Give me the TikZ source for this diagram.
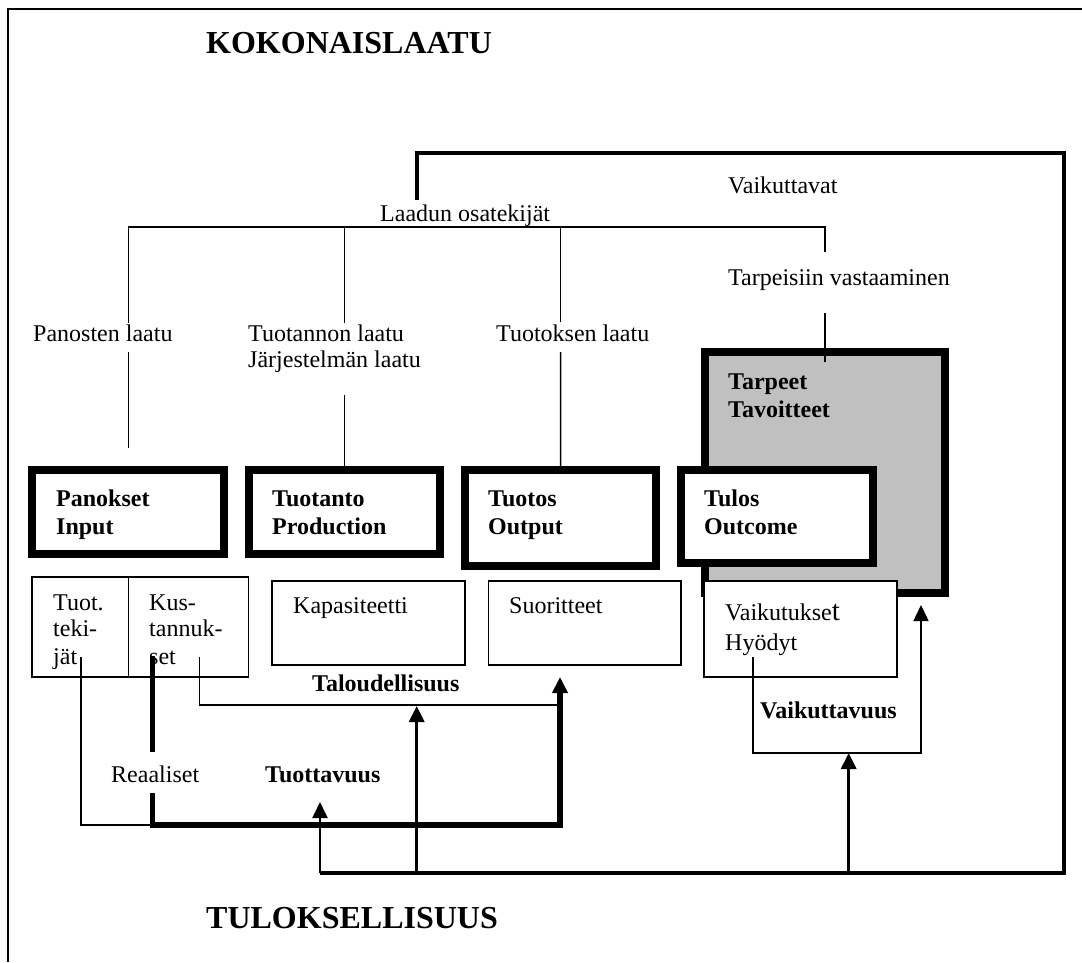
\documentclass[tikz,border=0pt]{standalone}
\usepackage{fontspec}
\setmainfont{Liberation Serif}
\usetikzlibrary{arrows.meta}
\begin{document}
\begin{tikzpicture}[x=1pt,y=-1pt,
  txt/.style={inner sep=0pt, anchor=base west, font=\fontsize{24}{28}\selectfont},
  btxt/.style={inner sep=0pt, anchor=base west, font=\fontsize{24}{28}\selectfont\bfseries},
  title/.style={inner sep=0pt, anchor=base west, font=\fontsize{32}{36}\selectfont\bfseries},
  heavybox/.style={draw, line width=8pt, fill=white, inner sep=0pt},
  lightbox/.style={draw, line width=1.5pt, fill=white, inner sep=0pt},
  thinline/.style={line width=1.5pt},
  loopline/.style={line width=4pt},
  headtip/.style={-{Triangle[width=15pt,length=16pt]}},
]
\useasboundingbox (0,0) rectangle (1082,962);

% outer frame
\draw[line width=2pt] (1082,9) -- (8,9) -- (8,962);

% titles
\node[title] (kokonais) at (206,53) {KOKONAISLAATU};
\node[title] (tuloksell) at (206,928) {TULOKSELLISUUS};

% quality components
\node[txt] (osat) at (380,221) {Laadun osatekijät};
\node[txt] (vaikuttavat) at (728,193) {Vaikuttavat};
\node[txt] (tarpeisiin) at (728,285) {Tarpeisiin vastaaminen};
\node[txt] (panlaatu) at (33,341) {Panosten laatu};
\node[txt] (tuotlaatu) at (248,341) {Tuotannon laatu};
\node[txt] (jarjlaatu) at (248,367) {Järjestelmän laatu};
\node[txt] (tuotoslaatu) at (496,341) {Tuotoksen laatu};

% needs / goals
\node[heavybox, fill={rgb,255:red,192;green,192;blue,192}, minimum width=240pt, minimum height=241pt] (tarpeet) at (824.7,472.5) {};
\node[btxt] (tarpeet1) at (728,389) {Tarpeet};
\node[btxt] (tarpeet2) at (728,417) {Tavoitteet};

% main stages
\node[heavybox, minimum width=192pt, minimum height=84pt] (panokset) at (128.4,512) {};
\node[heavybox, minimum width=191.5pt, minimum height=84pt] (tuotanto) at (344.3,512) {};
\node[heavybox, minimum width=191.6pt, minimum height=96pt] (tuotos) at (560.5,518) {};
\node[heavybox, minimum width=192.5pt, minimum height=93pt] (tulos) at (776.8,516.5) {};
\node[btxt] (panokset1) at (56,506) {Panokset};
\node[btxt] (panokset2) at (56,534) {Input};
\node[btxt] (tuotanto1) at (272,506) {Tuotanto};
\node[btxt] (tuotanto2) at (272,534) {Production};
\node[btxt] (tuotos1) at (488,506) {Tuotos};
\node[btxt] (tuotos2) at (488,534) {Output};
\node[btxt] (tulos1) at (704,506) {Tulos};
\node[btxt] (tulos2) at (704,534) {Outcome};

% measures under the stages
\node[lightbox, minimum width=216.6pt, minimum height=100pt] (tekijat) at (140.3,627) {};
\node[lightbox, minimum width=193pt, minimum height=84pt] (kapasiteetti) at (368.5,623) {};
\node[lightbox, minimum width=192.7pt, minimum height=84pt] (suoritteet) at (584.6,623) {};
\node[lightbox, minimum width=193pt, minimum height=96pt] (vaikutukset) at (800.5,629) {};
\draw[thinline] (tekijat.north west -| 128.4,0) -- (tekijat.south west -| 128.4,0);
\node[txt] (tuot1) at (53,610) {Tuot.};
\node[txt] (tuot2) at (53,636) {teki-};
\node[txt] (tuot3) at (53,664) {jät};
\node[txt] (kus1) at (149,610) {Kus-};
\node[txt] (kus2) at (149,636) {tannuk-};
\node[txt] (kus3) at (149,664) {set};
\node[txt] (kap) at (293,613) {Kapasiteetti};
\node[txt] (suor) at (509,613) {Suoritteet};
\node[txt] (vaik1) at (725,620) {Vaikutukse{\fontsize{29}{29}\selectfont t}};
\node[txt] (vaik2) at (725,650) {Hyödyt};

% performance labels
\node[btxt] (talous) at (312,691) {Taloudellisuus};
\node[txt] (reaaliset) at (111,782) {Reaaliset};
\node[btxt] (tuottavuus) at (265,782) {Tuottavuus};
\node[btxt] (vaikuttavuus) at (760,718) {Vaikuttavuus};

% quality tree
\coordinate (treeL) at (128.4,227);
\coordinate (treeR) at (825,227);
\draw[thinline] (128.4,323) -- (treeL) -- (treeR) -- (825,252);
\draw[thinline] (344.3,227) -- (344.3,323);
\draw[thinline] (560.7,227) -- (560.7,322);
\draw[thinline] (128.4,352) -- (128.4,448);
\draw[thinline] (344.3,395) -- (tuotanto.north);
\draw[thinline] (560.7,352) -- (tuotos.north);
\draw[thinline] (825,313) -- (825,362);

% feedback loop
\coordinate (loopA) at (320,873);
\coordinate (loopB) at (1064,873);
\coordinate (loopC) at (1064,153);
\coordinate (loopD) at (416.7,153);
\coordinate (loopE) at (416.7,200);
\draw[loopline] (loopA) -- (loopB) -- (loopC) -- (loopD) -- (loopE);

% productivity: real inputs to outputs
\coordinate (realTop) at (152.5,656);
\coordinate (realGapA) at (152.5,752);
\coordinate (realGapB) at (152.5,793);
\coordinate (realCorner) at (152.5,825);
\coordinate (outTip) at (560,677);
\draw[thinline] (81,657) -- (81,825) -- (realCorner);
\draw[line width=5.5pt] (realTop) -- (realGapA);
\draw[line width=5.5pt, headtip] (realGapB) -- (realCorner) -- (560,825) -- (outTip);

% economy: costs to outputs
\draw[thinline] (199.7,657) -- (199.7,705) -- (560,705);
\draw[line width=3.5pt, headtip] (416.7,873) -- (416.7,706);

% productivity arrow
\draw[line width=2pt, headtip] (loopA) -- (320,802);

% effectiveness
\draw[thinline, headtip] (753,657) -- (753,753) -- (921,753) -- (921,605);
\draw[line width=3.5pt, headtip] (848.7,873) -- (848.7,753);

\end{tikzpicture}
\end{document}
